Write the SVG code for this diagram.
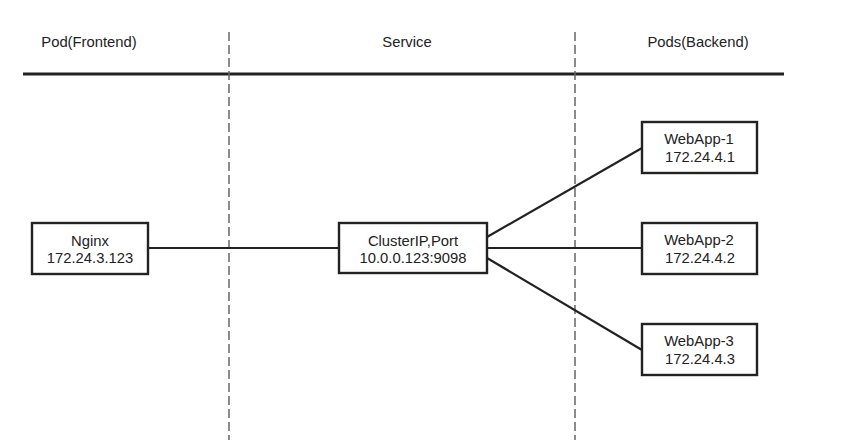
<svg xmlns="http://www.w3.org/2000/svg" width="845" height="446" viewBox="0 0 845 446">
<style>
text{font-family:"Liberation Sans",Arial,sans-serif;font-size:14.8px;fill:#222;text-anchor:middle}
.box{fill:#fff;stroke:#222;stroke-width:2.4}
.conn{stroke:#222;stroke-width:2.2;fill:none}
.dash{stroke:#666;stroke-width:1.5;stroke-dasharray:9,4;fill:none}
</style>
<rect width="845" height="446" fill="#fff"/>
<g id="headers">
<text x="89" y="47">Pod(Frontend)</text>
<text x="407" y="47">Service</text>
<text x="698" y="47">Pods(Backend)</text>
<line x1="23" y1="74" x2="784" y2="74" stroke="#222" stroke-width="3"/>
<line class="dash" x1="229" y1="32" x2="229" y2="440"/>
<line class="dash" x1="575" y1="32" x2="575" y2="440"/>
</g>
<g id="connectors">
<line class="conn" x1="148" y1="248" x2="339" y2="248"/>
<line class="conn" x1="487" y1="237" x2="642" y2="148"/>
<line class="conn" x1="487" y1="248" x2="642" y2="248"/>
<line class="conn" x1="487" y1="258" x2="642" y2="350"/>
</g>
<g id="nginx">
<rect class="box" x="32" y="223" width="116" height="51"/>
<text x="90" y="246">Nginx</text>
<text x="90" y="263">172.24.3.123</text>
</g>
<g id="clusterip">
<rect class="box" x="339" y="223" width="148" height="50"/>
<text x="413" y="246">ClusterIP,Port</text>
<text x="413" y="263">10.0.0.123:9098</text>
</g>
<g id="webapp1">
<rect class="box" x="642" y="122" width="115" height="51"/>
<text x="699" y="144">WebApp-1</text>
<text x="700" y="162">172.24.4.1</text>
</g>
<g id="webapp2">
<rect class="box" x="642" y="223" width="115" height="51"/>
<text x="699" y="245">WebApp-2</text>
<text x="700" y="263">172.24.4.2</text>
</g>
<g id="webapp3">
<rect class="box" x="642" y="324" width="115" height="51"/>
<text x="699" y="346">WebApp-3</text>
<text x="700" y="364">172.24.4.3</text>
</g>
</svg>
